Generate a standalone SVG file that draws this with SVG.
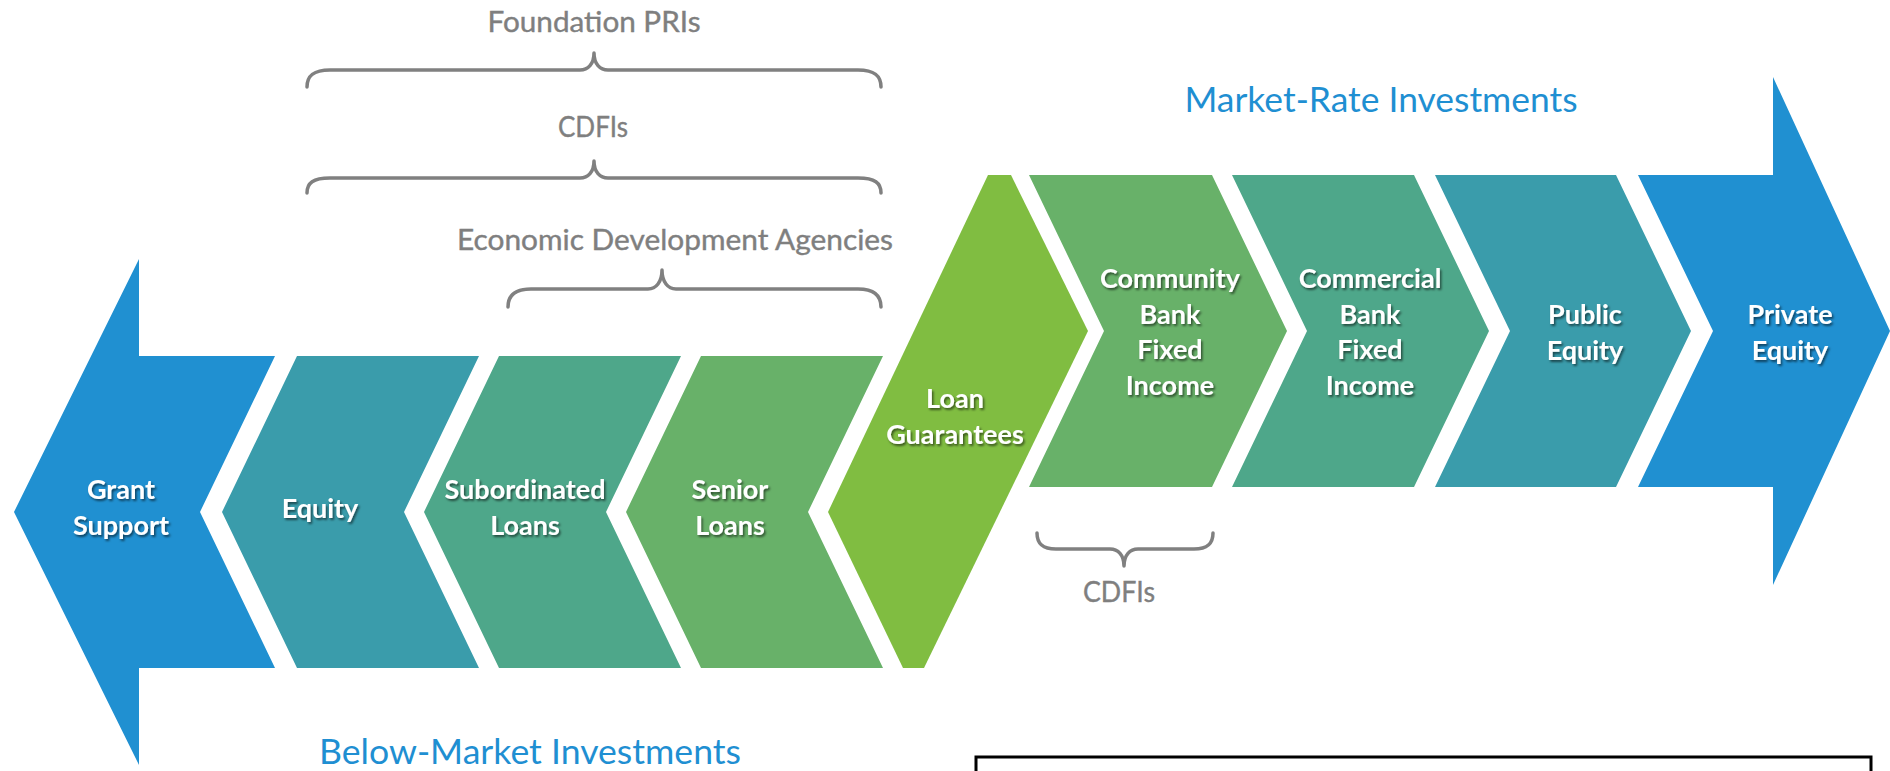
<svg xmlns="http://www.w3.org/2000/svg" width="1890" height="771" viewBox="0 0 1890 771">
  <style>
    .lbl { font-family: Lato, "Open Sans", "Liberation Sans", sans-serif; font-weight: 700; font-size: 27px; fill: #ffffff; text-anchor: middle; filter: url(#shadow); }
    .note { font-family: Lato, "Open Sans", "Liberation Sans", sans-serif; font-size: 28px; fill: #7f7f7f; stroke: #7f7f7f; stroke-width: 0.4; text-anchor: middle; }
    .title { font-family: Lato, "Open Sans", "Liberation Sans", sans-serif; font-size: 35px; fill: #1f8fd2; text-anchor: middle; }
    .brace { fill: none; stroke: #808080; stroke-width: 3.5; stroke-linecap: round; stroke-linejoin: round; }
    .blue { fill: #2090d1; }
    .teal { fill: #3a9cab; }
    .sea { fill: #4ea78a; }
    .green { fill: #68b169; }
    .lime { fill: #80bd41; }
  </style>
  <defs>
    <filter id="shadow" x="-10%" y="-30%" width="130%" height="170%">
      <feDropShadow dx="1.5" dy="2" stdDeviation="1.2" flood-color="#000000" flood-opacity="0.55"/>
    </filter>
  </defs>

  <rect width="1890" height="771" fill="#ffffff"/>

  <!-- below-market side: left-pointing chevrons -->
  <g id="grant-support">
    <path class="blue" d="M14,512 L139,259 L139,356 L275,356 L200,512 L275,668 L139,668 L139,765 Z"/>
    <text class="lbl" x="121" y="499">Grant</text>
    <text class="lbl" x="121" y="535">Support</text>
  </g>
  <g id="equity">
    <path class="teal" d="M297,356 L479,356 L404,512 L479,668 L297,668 L222,512 Z"/>
    <text class="lbl" x="320" y="518">Equity</text>
  </g>
  <g id="subordinated-loans">
    <path class="sea" d="M499,356 L681,356 L606,512 L681,668 L499,668 L424,512 Z"/>
    <text class="lbl" x="525" y="499">Subordinated</text>
    <text class="lbl" x="525" y="535">Loans</text>
  </g>
  <g id="senior-loans">
    <path class="green" d="M701,356 L883,356 L808,512 L883,668 L701,668 L626,512 Z"/>
    <text class="lbl" x="730" y="499">Senior</text>
    <text class="lbl" x="730" y="535">Loans</text>
  </g>

  <!-- pivot shape linking both rows -->
  <g id="loan-guarantees">
    <path class="lime" d="M988,175 L1011,175 L1088,331 L924,668 L903,668 L828,512 Z"/>
    <text class="lbl" x="955" y="408">Loan</text>
    <text class="lbl" x="955" y="444">Guarantees</text>
  </g>

  <!-- market-rate side: right-pointing chevrons -->
  <g id="community-bank">
    <path class="green" d="M1029,175 L1212,175 L1287,331 L1212,487 L1029,487 L1104,331 Z"/>
    <text class="lbl" x="1170" y="288">Community</text>
    <text class="lbl" x="1170" y="324">Bank</text>
    <text class="lbl" x="1170" y="359">Fixed</text>
    <text class="lbl" x="1170" y="395">Income</text>
  </g>
  <g id="commercial-bank">
    <path class="sea" d="M1232,175 L1414,175 L1489,331 L1414,487 L1232,487 L1307,331 Z"/>
    <text class="lbl" x="1370" y="288">Commercial</text>
    <text class="lbl" x="1370" y="324">Bank</text>
    <text class="lbl" x="1370" y="359">Fixed</text>
    <text class="lbl" x="1370" y="395">Income</text>
  </g>
  <g id="public-equity">
    <path class="teal" d="M1435,175 L1616,175 L1691,331 L1616,487 L1435,487 L1510,331 Z"/>
    <text class="lbl" x="1585" y="324">Public</text>
    <text class="lbl" x="1585" y="360">Equity</text>
  </g>
  <g id="private-equity">
    <path class="blue" d="M1638,175 L1773,175 L1773,77 L1890,331 L1773,585 L1773,487 L1638,487 L1713,331 Z"/>
    <text class="lbl" x="1790" y="324">Private</text>
    <text class="lbl" x="1790" y="360">Equity</text>
  </g>

  <!-- braces grouping the instruments by provider -->
  <g id="braces">
    <path class="brace" d="M307,87 C307,76 313,70 330,70 L580,70 C588,70 594,64 594,53 C594,64 600,70 608,70 L858,70 C875,70 881,76 881,87"/>
    <path class="brace" d="M307,193 C307,183 313,178 330,178 L580,178 C588,178 594,172 594,161 C594,172 600,178 608,178 L858,178 C875,178 881,183 881,193"/>
    <path class="brace" d="M508,307 C508,296 514,289 531,289 L648,289 C656,289 662,282 662,270 C662,282 668,289 676,289 L858,289 C875,289 881,296 881,307"/>
    <path class="brace" d="M1037,533 C1037,543 1042,549 1056,549 L1110,549 C1118,549 1124,555 1124,566 C1124,555 1130,549 1138,549 L1194,549 C1208,549 1213,543 1213,533"/>
  </g>

  <g id="provider-labels">
    <text class="note" x="594" y="32" textLength="213" lengthAdjust="spacingAndGlyphs">Foundation PRIs</text>
    <text class="note" x="593" y="137" textLength="70" lengthAdjust="spacingAndGlyphs">CDFIs</text>
    <text class="note" x="675" y="250" textLength="436" lengthAdjust="spacingAndGlyphs">Economic Development Agencies</text>
    <text class="note" x="1119" y="602" textLength="72" lengthAdjust="spacingAndGlyphs">CDFIs</text>
  </g>

  <g id="titles">
    <text class="title" x="1381" y="112" textLength="393" lengthAdjust="spacingAndGlyphs">Market-Rate Investments</text>
    <text class="title" x="530" y="764" textLength="422" lengthAdjust="spacingAndGlyphs">Below-Market Investments</text>
  </g>

  <rect id="caption-box" x="976" y="757" width="895" height="40" fill="#ffffff" stroke="#000000" stroke-width="3"/>
</svg>
